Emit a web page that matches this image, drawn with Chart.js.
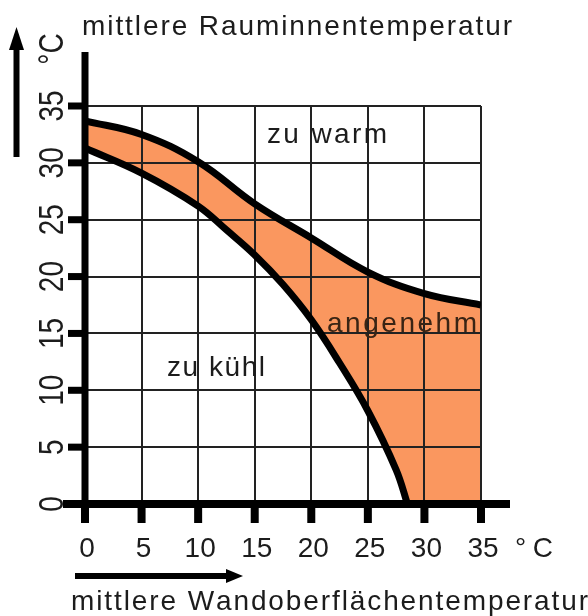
<!DOCTYPE html>
<html lang="de">
<head>
<meta charset="utf-8">
<title>Behaglichkeitsfeld</title>
<script src="https://cdn.jsdelivr.net/npm/chart.js@4.4.1/dist/chart.umd.min.js"></script>
<style>
  html, body { margin: 0; padding: 0; background: #fff; }
  canvas { display: block; }
</style>
</head>
<body>
<canvas id="chart" width="588" height="616"></canvas>
<script>
(() => {
  "use strict";

  // Wandoberflächentemperatur (x) gegen Raumtemperatur (y), beides in °C
  const xTicks = [0, 5, 10, 15, 20, 25, 30, 35];
  const yTicks = [0, 5, 10, 15, 20, 25, 30, 35];

  // obere Grenze des Behaglichkeitsfeldes
  const upperX = [0, 5, 10, 15, 20, 25, 30, 35];
  const upperY = [33.7, 32.5, 30.1, 26.4, 23.4, 20.4, 18.5, 17.5];

  // untere Grenze
  const lowerX = [0, 5, 10, 12.5, 15, 17.5, 20, 22.5, 25, 27.5, 28.5];
  const lowerY = [31.3, 29.1, 26.2, 24.1, 21.9, 19.3, 16.2, 12.4, 8.2, 3.0, 0];

  const regionNames = ["zu warm", "angenehm", "zu kühl"];
  const yTitle = "mittlere Rauminnentemperatur";
  const xTitle = "mittlere Wandoberflächentemperatur";
  const unit = "°C";

  const FONT = '"Liberation Sans", Arial, sans-serif';
  const INK = "#1c1c1c";
  const ORANGE = "#fa975f";

  const pts = (xs, ys) => xs.map((v, i) => ({ x: v, y: ys[i] }));

  // text with even letter gaps so that it spans the given width
  function spaced(ctx, str, x, y, width) {
    const chars = [...str];
    const natural = chars.reduce((s, c) => s + ctx.measureText(c).width, 0);
    const gap = chars.length > 1 ? (width - natural) / (chars.length - 1) : 0;
    let cx = x;
    ctx.textAlign = "left";
    for (const c of chars) {
      ctx.fillText(c, cx, y);
      cx += ctx.measureText(c).width + gap;
    }
  }

  function upright(ctx, str, x, y) {
    ctx.save();
    ctx.translate(x, y);
    ctx.rotate(-Math.PI / 2);
    ctx.scale(1, 1.25);
    ctx.textAlign = "center";
    ctx.fillText(str, 0, 0);
    ctx.restore();
  }

  function tri(ctx, a, b, c) {
    ctx.beginPath();
    ctx.moveTo(a[0], a[1]);
    ctx.lineTo(b[0], b[1]);
    ctx.lineTo(c[0], c[1]);
    ctx.closePath();
    ctx.fill();
  }

  const decor = {
    id: "decor",
    afterDatasetsDraw(chart) {
      const { ctx, scales: { x, y } } = chart;
      const x0 = x.getPixelForValue(0);
      const y0 = y.getPixelForValue(0);
      ctx.save();
      ctx.fillStyle = "#000";

      // heavy axes with stub ticks
      ctx.fillRect(x0 - 3.5, y.top - 54, 7, y0 - y.top + 58);
      ctx.fillRect(x0 - 22, y0 - 4, x.right + 29 - (x0 - 22), 8);
      for (const v of xTicks) ctx.fillRect(x.getPixelForValue(v) - 4, y0, 8, 19);
      for (const v of yTicks) ctx.fillRect(x0 - 17, y.getPixelForValue(v) - 3.5, 17, 7);

      // arrows
      ctx.fillRect(13.5, 46, 6, 111);
      tri(ctx, [16.5, 27], [9, 50], [24, 50]);
      ctx.fillRect(75, 573, 154, 6);
      tri(ctx, [243, 576], [226, 569], [226, 583]);

      ctx.fillStyle = INK;
      ctx.font = "28px " + FONT;
      ctx.textBaseline = "alphabetic";

      ctx.textAlign = "center";
      for (const v of xTicks) ctx.fillText(String(v), x.getPixelForValue(v) + 2, 557);
      spaced(ctx, unit, 515, 557, 38);

      for (const v of yTicks) upright(ctx, String(v), 63, y.getPixelForValue(v));
      upright(ctx, unit, 63, 49);

      spaced(ctx, yTitle, 82, 35, 430);
      spaced(ctx, xTitle, 71, 610, 517);

      spaced(ctx, regionNames[0], 267, 143, 120);
      spaced(ctx, regionNames[2], 167, 376, 98);
      ctx.fillStyle = "#3a2414";
      spaced(ctx, regionNames[1], 327, 332, 150);
      ctx.restore();
    }
  };

  const axis = {
    type: "linear",
    min: 0,
    max: 35,
    ticks: { display: false, stepSize: 5 },
    grid: { color: "#222", lineWidth: 2, drawTicks: false },
    border: { display: false }
  };

  new Chart(document.getElementById("chart"), {
    type: "line",
    data: {
      datasets: [
        {
          label: "untere Grenze",
          data: pts(lowerX, lowerY),
          borderColor: "#000",
          borderWidth: 7,
          backgroundColor: "#fff",
          fill: "origin",
          pointRadius: 0,
          tension: 0.4
        },
        {
          label: "obere Grenze",
          data: pts(upperX, upperY),
          borderColor: "#000",
          borderWidth: 7,
          backgroundColor: ORANGE,
          fill: "origin",
          pointRadius: 0,
          tension: 0.4
        }
      ]
    },
    options: {
      responsive: false,
      animation: false,
      events: [],
      layout: { padding: { left: 85, top: 106, right: 107, bottom: 112 } },
      plugins: {
        legend: { display: false },
        tooltip: { enabled: false },
        filler: { drawTime: "beforeDraw" }
      },
      scales: { x: { ...axis }, y: { ...axis } }
    },
    plugins: [decor]
  });
})();
</script>
</body>
</html>
